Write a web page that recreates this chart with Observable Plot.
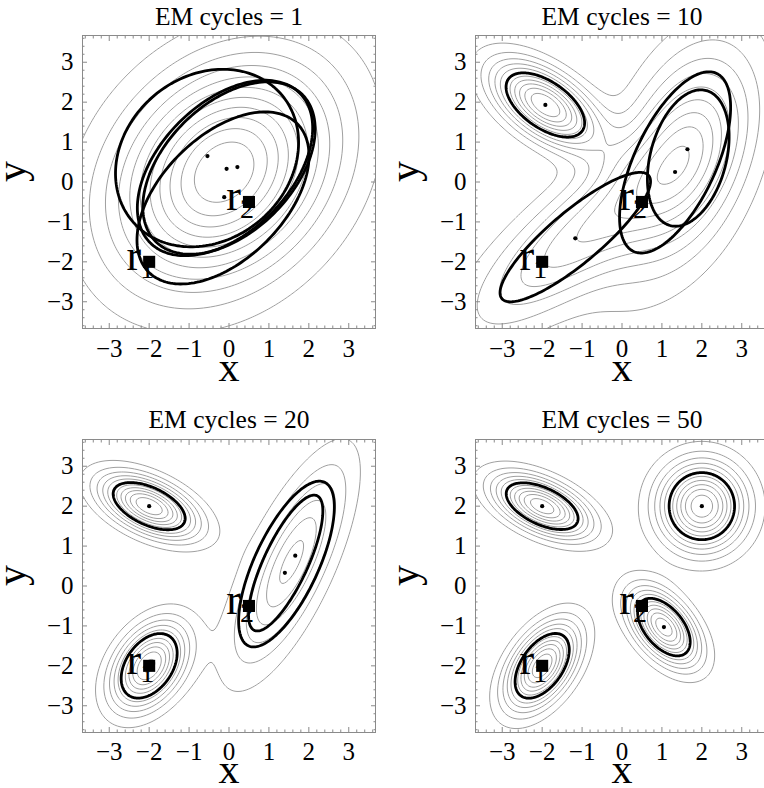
<!DOCTYPE html>
<html><head><meta charset="utf-8">
<script src="https://cdn.jsdelivr.net/npm/d3@7"></script>
<script src="https://cdn.jsdelivr.net/npm/@observablehq/plot@0.6"></script>
<style>
html,body{margin:0;padding:0;background:#fff;overflow:hidden;}
#chart{position:relative;width:764px;height:788px;overflow:hidden;background:#fff;}
.panel{position:absolute;}
</style></head><body><div id="chart"></div>
<script>
// ---- text ----
const titles = ["EM cycles = 1", "EM cycles = 10", "EM cycles = 20", "EM cycles = 50"];
const tickValues = [-3, -2, -1, 0, 1, 2, 3];
const tickLabels = ["\u22123", "\u22122", "\u22121", "0", "1", "2", "3"];
const minorTicks = [-3.6,-3.4,-3.2,-2.8,-2.6,-2.4,-2.2,-1.8,-1.6,-1.4,-1.2,-0.8,-0.6,-0.4,-0.2,0.2,0.4,0.6,0.8,1.2,1.4,1.6,1.8,2.2,2.4,2.6,2.8,3.2,3.4,3.6];
const xLabel = "x", yLabel = "y";

// ---- reference points r1, r2 ----
const refX = [-2, 0.5];
const refY = [-2, -0.5];
const refLetter = ["r", "r"];
const refSub = ["1", "2"];

// ---- mixture components, one row per panel ----
const meanX  = [[-0.54, -0.06, 0.21, -0.12], [-1.92, -1.17, 1.64, 1.33], [-2.00, 1.66, 1.40, -2.00], [-2.00, 2.00, 1.05, -2.00]];
const meanY  = [[ 0.65,  0.33, 0.375, -0.38], [ 1.93, -1.41, 0.82, 0.25], [ 2.00, 0.76, 0.33, -2.00], [ 2.00, 2.00, -1.03, -2.00]];
const weight = [[0.25, 0.25, 0.25, 0.25], [0.20, 0.30, 0.25, 0.25], [0.26, 0.17, 0.25, 0.28], [0.22, 0.34, 0.20, 0.24]];
// ellipse centres as drawn
const ellX   = [[-0.55, -0.10, 0.00, -0.15], [-1.92, -1.17, 1.66, 1.33], [-2.00, 1.42, 1.44, -2.00], [-2.00, 2.00, 1.05, -2.00]];
const ellY   = [[ 0.60,  0.35, 0.35, -0.40], [ 1.93, -1.38, 0.60, 0.49], [ 2.00, 0.575, 0.55, -2.00], [ 2.00, 2.00, -1.03, -2.00]];
// ellipse semi-axes and orientation (degrees)
const axisA  = [[2.45, 2.65, 2.60, 2.63], [1.13, 2.40, 1.75, 2.46], [0.97, 1.86, 2.26, 0.90], [0.97, 0.84, 0.85, 0.92]];
const axisB  = [[2.05, 1.62, 1.60, 1.54], [0.58, 0.65, 0.95, 1.02], [0.47, 0.55, 0.80, 0.58], [0.46, 0.82, 0.48, 0.52]];
const angle  = [[40, 45, 45, 45], [-35, 40, 75, 65], [-25, 65, 65, 55], [-25, 90, -50, 55]];
// spread of the density components where it departs from the drawn ellipse (null: ellipse / K)
const densSigmaA = [[2.0, 2.0, 2.0, 2.0], [0.98, 2.2, 1.65, 2.3], null, null];
const densSigmaB = [[1.5, 1.5, 1.5, 1.5], [0.50, 0.75, 0.95, 1.05], null, null];
const densAngle  = [[45, 45, 45, 45], [-35, 40, 75, 65], null, null];

const K = 1.15;         // ellipses drawn at this Mahalanobis radius
const N_LEVELS = 11;    // evenly spaced density contours
const DOMAIN = [-3.67, 3.67];

const FONT = "'Liberation Serif', 'Times New Roman', serif";
const GRAY = "#8a8a8a";

function panel(i, left, top, titleDy, tickDy, xLabelDy) {
  const comps = meanX[i].map((_, j) => {
    const own = densSigmaA[i] != null;
    const th = (own ? densAngle[i][j] : angle[i][j]) * Math.PI / 180;
    return {mx: meanX[i][j], my: meanY[i][j], c: Math.cos(th), s: Math.sin(th),
            sa: own ? densSigmaA[i][j] : axisA[i][j] / K,
            sb: own ? densSigmaB[i][j] : axisB[i][j] / K, w: weight[i][j]};
  });
  const density = (x, y) => {
    let t = 0;
    for (const q of comps) {
      const dx = x - q.mx, dy = y - q.my;
      const u = dx * q.c + dy * q.s, v = -dx * q.s + dy * q.c;
      t += q.w / (2 * Math.PI * q.sa * q.sb) * Math.exp(-0.5 * (u * u / (q.sa * q.sa) + v * v / (q.sb * q.sb)));
    }
    return t;
  };
  let lo = Infinity, hi = -Infinity;
  for (let gx = DOMAIN[0]; gx <= DOMAIN[1]; gx += 0.02)
    for (let gy = DOMAIN[0]; gy <= DOMAIN[1]; gy += 0.02) {
      const d = density(gx, gy);
      if (d < lo) lo = d; if (d > hi) hi = d;
    }
  const levels = d3.range(1, N_LEVELS + 1).map(k => lo + (hi - lo) * k / (N_LEVELS + 1));

  const ell = [];
  meanX[i].forEach((_, j) => {
    const th = angle[i][j] * Math.PI / 180, c = Math.cos(th), s = Math.sin(th);
    for (let deg = 0; deg <= 360; deg += 2) {
      const t = deg * Math.PI / 180;
      const u = axisA[i][j] * Math.cos(t), v = axisB[i][j] * Math.sin(t);
      ell.push({id: j, x: ellX[i][j] + u * c - v * s, y: ellY[i][j] + u * s + v * c});
    }
  });
  const dots = meanX[i].map((x, j) => ({x, y: meanY[i][j]}));
  const refs = refX.map((x, j) => ({x, y: refY[j], letter: refLetter[j], sub: refSub[j]}));

  const fmt = d => tickLabels[tickValues.indexOf(d)];
  const tickStyle = {stroke: GRAY, fill: "none", label: null};
  const plot = Plot.plot({
    width: 385, height: 388,
    marginLeft: 82, marginTop: 35, marginRight: 10, marginBottom: 60,
    x: {domain: DOMAIN, axis: null},
    y: {domain: DOMAIN, axis: null},
    style: {fontFamily: FONT, background: "transparent", overflow: "visible", color: "black"},
    marks: [
      Plot.contour({x1: DOMAIN[0], x2: DOMAIN[1], y1: DOMAIN[0], y2: DOMAIN[1],
        value: density, thresholds: levels, stroke: "#a0a0a0", strokeWidth: 1, fill: "none", pixelSize: 1}),
      Plot.line(ell, {x: "x", y: "y", z: "id", stroke: "black", strokeWidth: 2.8, curve: "linear"}),
      Plot.dot(dots, {x: "x", y: "y", r: 2.1, fill: "black", stroke: "none"}),
      Plot.text(refs, {x: "x", y: "y", text: "letter", fontSize: 44, textAnchor: "end", lineAnchor: "bottom", dx: -8, dy: 8, fill: "black"}),
      Plot.text(refs, {x: "x", y: "y", text: "sub", fontSize: 28, textAnchor: "start", lineAnchor: "bottom", dx: -9, dy: 16, fill: "black"}),
      Plot.dot(refs, {x: "x", y: "y", symbol: "square", r: 6.8, fill: "black", stroke: "none"}),
      Plot.frame({stroke: GRAY, strokeWidth: 1}),
      Plot.axisX(minorTicks, {anchor: "bottom", tickSize: -2.5, ...tickStyle}),
      Plot.axisX(minorTicks, {anchor: "top", tickSize: -2.5, ...tickStyle}),
      Plot.axisY(minorTicks, {anchor: "left", tickSize: -2.5, ...tickStyle}),
      Plot.axisY(minorTicks, {anchor: "right", tickSize: -2.5, ...tickStyle}),
      Plot.axisX(tickValues, {anchor: "bottom", tickSize: -5, ...tickStyle}),
      Plot.axisX(tickValues, {anchor: "top", tickSize: -5, ...tickStyle}),
      Plot.axisY(tickValues, {anchor: "left", tickSize: -5, ...tickStyle}),
      Plot.axisY(tickValues, {anchor: "right", tickSize: -5, ...tickStyle}),
      Plot.text(tickValues, {x: d => d, text: fmt, frameAnchor: "bottom", lineAnchor: "top", dy: tickDy, fontSize: 25, fill: "black"}),
      Plot.text(tickValues, {y: d => d, text: fmt, frameAnchor: "left", textAnchor: "end", lineAnchor: "middle", dx: -9, fontSize: 25, fill: "black"}),
      Plot.text([titles[i]], {frameAnchor: "top", lineAnchor: "bottom", dy: titleDy, fontSize: 25.5, fill: "black"}),
      Plot.text([xLabel], {frameAnchor: "bottom", lineAnchor: "bottom", dy: xLabelDy, fontSize: 42, fill: "black"}),
      Plot.text([yLabel], {frameAnchor: "left", lineAnchor: "bottom", rotate: -90, dx: -58, fontSize: 42, fill: "black"})
    ]
  });
  plot.classList.add("panel");
  plot.style.left = left + "px";
  plot.style.top = top + "px";
  document.getElementById("chart").appendChild(plot);
}

panel(0, 0, 0, -11, 11, 52);
panel(1, 393, 0, -11, 11, 52);
panel(2, 0, 404, -12, 10, 50);
panel(3, 393, 404, -12, 10, 50);
</script>
</body></html>
